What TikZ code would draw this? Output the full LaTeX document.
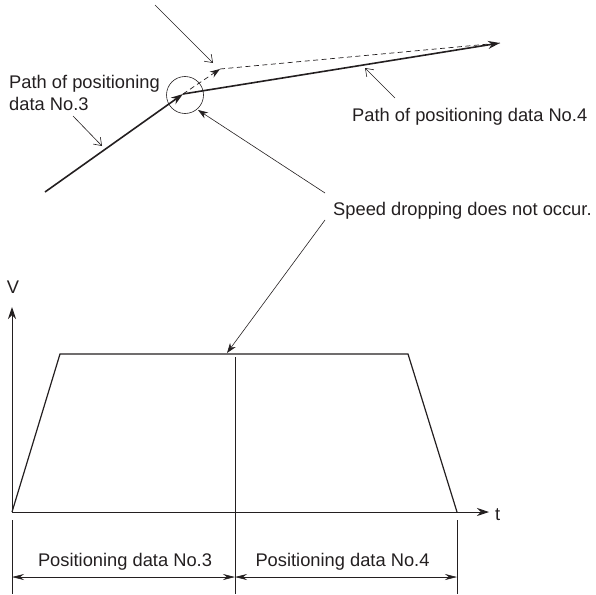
\documentclass[tikz,border=0pt]{standalone}
\usepackage{fontspec}
\setmainfont{Liberation Sans}
\usetikzlibrary{arrows.meta}
\definecolor{ink}{HTML}{231F20}
\begin{document}
\begin{tikzpicture}[x=1pt,y=-1pt,
  lbl/.style={font=\fontsize{18.3}{22}\selectfont, inner sep=0pt, text=ink},
  heavy/.style={line width=1.6pt, draw=ink},
  light/.style={line width=0.6pt, draw=ink},
  axisline/.style={line width=0.9pt, draw=ink},
  dashline/.style={line width=0.7pt, draw=ink, dash pattern=on 5pt off 3.5pt},
  bigtip/.style={-{Stealth[length=12pt,width=8pt]}},
  smalltip/.style={-{Stealth[length=10pt,width=7pt]}},
  opentip/.style={-{Straight Barb[length=7pt,width=10pt]}},
  dimtip/.style={{Stealth[length=12pt,width=6pt]}-{Stealth[length=12pt,width=6pt]}},
]
\useasboundingbox (0,0) rectangle (596,594);

% ---- upper part: paths ----
\coordinate (p3s) at (45,192);
\coordinate (j) at (183,94);
\coordinate (dtip) at (220,69);
\coordinate (p4e) at (500,43);
\node[circle, draw=ink, line width=0.6pt, minimum size=37pt, inner sep=0pt] (circ) at (185,95) {};
\draw[heavy, bigtip] (p3s) -- (j);
\draw[heavy, bigtip] (j) -- (p4e);
\draw[dashline, smalltip] (j) -- (dtip);
\draw[dashline] (dtip) -- (p4e);

% labels
\node[lbl, anchor=base west] (l3a) at (9,88) {Path of positioning};
\node[lbl, anchor=base west] (l3b) at (9,110) {data No.3};
\node[lbl, anchor=base west] (l4) at (352,121) {Path of positioning data No.4};
\node[lbl, anchor=base west] (sp) at (333,215.5) {Speed dropping does not occur.};

% thin pointers
\coordinate (a1s) at (155,5);   \coordinate (a1e) at (213,63);
\coordinate (a2s) at (73,116);  \coordinate (a2e) at (102,146);
\coordinate (a3s) at (395,98);  \coordinate (a3e) at (365,68);
\draw[light, opentip] (a1s) -- (a1e);
\draw[light, opentip] (a2s) -- (a2e);
\draw[light, opentip] (a3s) -- (a3e);

% speed-dropping pointers
\coordinate (s1s) at (325,193); \coordinate (s1e) at (198,110);
\coordinate (s2s) at (325,220); \coordinate (s2e) at (227,353);
\draw[light, smalltip] (s1s) -- (s1e);
\draw[light, smalltip] (s2s) -- (s2e);

% ---- lower part: speed graph ----
\coordinate (o) at (12,512);
\coordinate (vtop) at (12,307);
\coordinate (tend) at (489,512);
\draw[axisline, bigtip] (o) -- (vtop);
\draw[axisline, bigtip] (o) -- (tend);
\node[lbl, anchor=base] (vl) at (13,293) {V};
\node[lbl, anchor=base west] (tl) at (495,520) {t};

\coordinate (k1) at (60,354);
\coordinate (k2) at (408,354);
\coordinate (k3) at (457,512);
\draw[line width=1.2pt, draw=ink] (o) -- (k1) -- (k2) -- (k3);

% vertical markers
\coordinate (m1) at (235,357); \coordinate (m2) at (235,594);
\coordinate (lv1) at (12,520); \coordinate (lv2) at (12,594);
\coordinate (rv1) at (457,520); \coordinate (rv2) at (457,594);
\draw[light] (m1) -- (m2);
\draw[light] (lv1) -- (lv2);
\draw[light] (rv1) -- (rv2);

% dimension arrows
\coordinate (d1) at (12,577); \coordinate (d2) at (235,577); \coordinate (d3) at (457,577);
\draw[light, dimtip] (d1) -- (d2);
\draw[light, dimtip] (d2) -- (d3);
\node[lbl, anchor=base] (pd3) at (125,566) {Positioning data No.3};
\node[lbl, anchor=base] (pd4) at (342.5,566) {Positioning data No.4};
\end{tikzpicture}
\end{document}
